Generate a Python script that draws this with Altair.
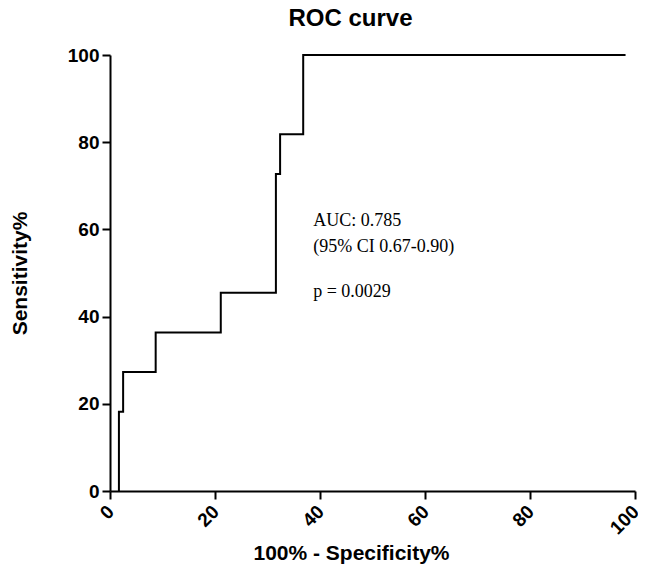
import altair as alt
import pandas as pd

# ROC curve points (100% - Specificity%, Sensitivity%)
fpr = [1.7, 1.7, 2.5, 8.7, 21.1, 31.6, 32.4, 36.8, 98.2]
tpr = [0.0, 18.18, 27.27, 36.36, 45.45, 72.73, 81.82, 100.0, 100.0]

ann_text = ["AUC: 0.785", "(95% CI 0.67-0.90)", "p = 0.0029"]
ann_x = [38.7, 38.7, 38.7]
ann_y = [60.8, 54.8, 44.5]

x_ticks = [0, 20, 40, 60, 80, 100]
y_ticks = [0, 20, 40, 60, 80, 100]

df = pd.DataFrame({"fpr": fpr, "tpr": tpr, "order": list(range(len(fpr)))})
ann = pd.DataFrame({"x": ann_x, "y": ann_y, "t": ann_text})

xscale = alt.Scale(domain=[0, 100], nice=False, zero=False)
yscale = alt.Scale(domain=[0, 100], nice=False, zero=False)

line = alt.Chart(df).mark_line(color="black", strokeWidth=2, interpolate="step-after").encode(
    x=alt.X("fpr:Q", scale=xscale, title="100% - Specificity%",
            axis=alt.Axis(values=x_ticks, labelAngle=-45, labelOffset=-6, titleX=241, titleY=51,
                          titleBaseline="top")),
    y=alt.Y("tpr:Q", scale=yscale, title="Sensitivity%",
            axis=alt.Axis(values=y_ticks, titleX=-80)),
    order="order:Q",
)

text = alt.Chart(ann).mark_text(font="Liberation Serif", fontSize=18, align="left",
                                baseline="alphabetic", color="black").encode(
    x=alt.X("x:Q", scale=xscale), y=alt.Y("y:Q", scale=yscale), text="t:N")

chart = (line + text).properties(
    width=525, height=436,
    autosize=alt.AutoSizeParams(type="none"),
    padding={"left": 102, "top": 47, "right": 3, "bottom": 76},
    title=alt.Title("ROC curve", fontSize=24, font="Liberation Sans", fontWeight="bold",
                    anchor="middle", dx=-22, offset=15, color="black"),
).configure_view(stroke=None).configure_axis(
    domainColor="black", domainWidth=2, tickColor="black", tickWidth=2, tickSize=8,
    grid=False, labelFont="Liberation Sans", labelFontWeight="bold", labelFontSize=19,
    labelColor="black", titleFont="Liberation Sans", titleFontWeight="bold",
    titleFontSize=21, titleColor="black", labelPadding=3,
)

chart.save("out.html", embed_options={"renderer": "svg", "actions": False})
